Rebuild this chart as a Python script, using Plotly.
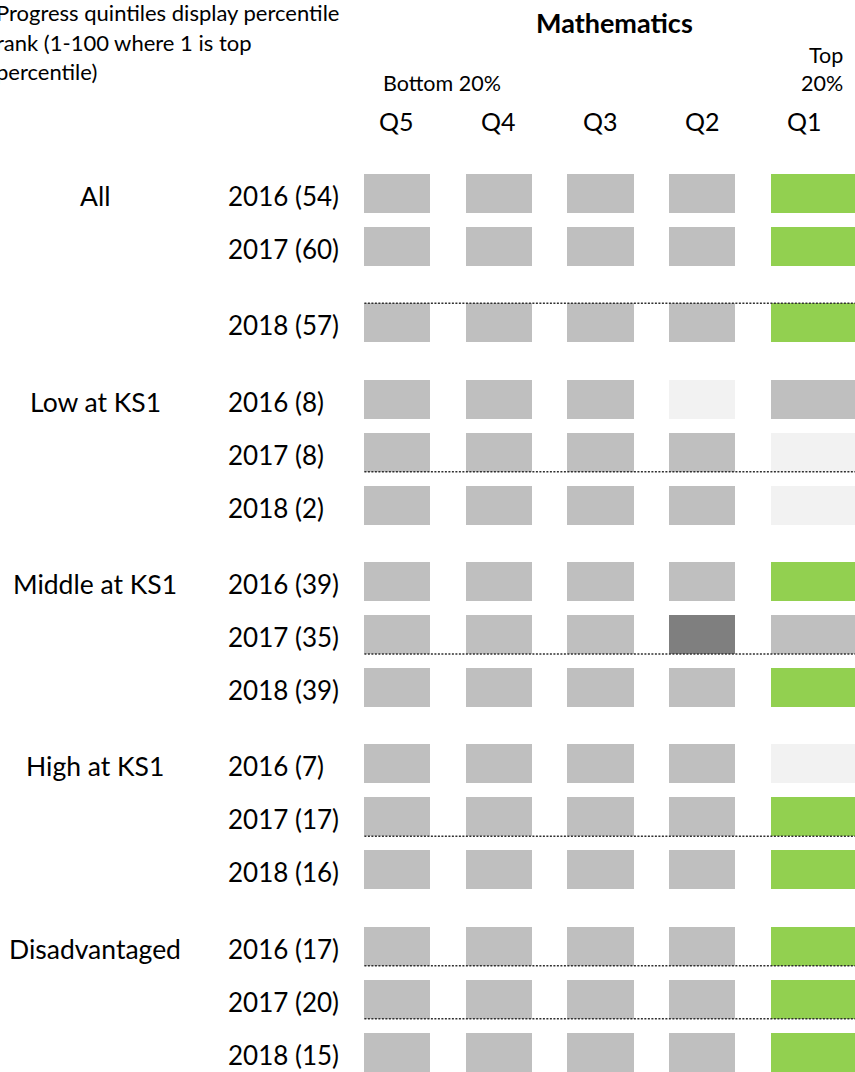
import plotly.graph_objects as go

# ---------------- data ----------------
groups = ["All", "Low at KS1", "Middle at KS1", "High at KS1", "Disadvantaged"]
years = ["2016", "2017", "2018"]
cohort_sizes = [
    [54, 60, 57],   # All
    [8, 8, 2],      # Low at KS1
    [39, 35, 39],   # Middle at KS1
    [7, 17, 16],    # High at KS1
    [17, 20, 15],   # Disadvantaged
]
quintiles = ["Q5", "Q4", "Q3", "Q2", "Q1"]
# status of each quintile cell: g = grey, l = light grey, d = dark grey, G = green (school's quintile)
cell_status = [
    ["g", "g", "g", "g", "G"],
    ["g", "g", "g", "g", "G"],
    ["g", "g", "g", "g", "G"],
    ["g", "g", "g", "l", "g"],
    ["g", "g", "g", "g", "l"],
    ["g", "g", "g", "g", "l"],
    ["g", "g", "g", "g", "G"],
    ["g", "g", "g", "d", "g"],
    ["g", "g", "g", "g", "G"],
    ["g", "g", "g", "g", "l"],
    ["g", "g", "g", "g", "G"],
    ["g", "g", "g", "g", "G"],
    ["g", "g", "g", "g", "G"],
    ["g", "g", "g", "g", "G"],
    ["g", "g", "g", "g", "G"],
]
title = "Mathematics"
note_lines = ["Progress quintiles display percentile", "rank (1-100 where 1 is top", "percentile)"]

# ---------------- styling / layout ----------------
colors = {"g": "#BFBFBF", "l": "#F2F2F2", "d": "#7F7F7F", "G": "#92D050"}
FONT = "Lato, Calibri, sans-serif"
W, H = 855, 1072
X_RANGE = [-3.90, 4.50]
Y_RANGE = [16.575, -3.651]
BOX_W = 0.65
BOX_H = 0.736
GAP = 0.44
# rows preceded by an extra gap (group starts, plus the 2018 "All" row)
gap_before = {2, 3, 6, 9, 12}
# dotted rules: (row index, edge)
rules = [(2, "top"), (4, "bottom"), (7, "bottom"), (10, "bottom"), (12, "bottom"), (13, "bottom")]

row_labels_year = []
row_group = []
for gi, g in enumerate(groups):
    for yi, yr in enumerate(years):
        row_labels_year.append(f"{yr} ({cohort_sizes[gi][yi]})")
        row_group.append(g if yi == 0 else "")

ypos = []
pos = 0.0
for i in range(len(row_labels_year)):
    if i > 0:
        pos += 1.0 + (GAP if i in gap_before else 0.0)
    ypos.append(pos)

fig = go.Figure()

for ci, q in enumerate(quintiles):
    base = ci - BOX_W / 2
    length = BOX_W if ci < len(quintiles) - 1 else (X_RANGE[1] + 0.3 - base)
    fig.add_trace(go.Bar(
        orientation="h",
        y=ypos,
        x=[length] * len(ypos),
        base=[base] * len(ypos),
        width=BOX_H,
        marker=dict(color=[colors[row[ci]] for row in cell_status], line=dict(width=0)),
        name=q,
        hoverinfo="skip",
        showlegend=False,
    ))

for ri, edge in rules:
    yv = ypos[ri] - BOX_H / 2 if edge == "top" else ypos[ri] + BOX_H / 2
    fig.add_trace(go.Scatter(
        x=[-BOX_W / 2 + 0.005, X_RANGE[1] + 0.1],
        y=[yv, yv],
        mode="lines",
        line=dict(color="#303030", width=1.5, dash="2px,1.5px"),
        hoverinfo="skip",
        showlegend=False,
    ))

ann = []
def px_x(p):
    return p / W
def px_y(p):
    return 1 - p / H

# row labels
for i, y in enumerate(ypos):
    ann.append(dict(x=px_x(226), y=y + 0.05, xref="paper", yref="y", text=row_labels_year[i],
                    xanchor="left", yanchor="middle", showarrow=False,
                    font=dict(family=FONT, size=26, color="#000000")))
    if row_group[i]:
        ann.append(dict(x=px_x(95), y=y + 0.05, xref="paper", yref="y", text=row_group[i],
                        xanchor="center", yanchor="middle", showarrow=False,
                        font=dict(family=FONT, size=26.5, color="#000000")))

# quintile headers
for ci, q in enumerate(quintiles):
    ann.append(dict(x=ci, y=px_y(121), xref="x", yref="paper", text=q,
                    xanchor="center", yanchor="middle", showarrow=False,
                    font=dict(family=FONT, size=25, color="#000000")))

ann.append(dict(x=px_x(614), y=px_y(22), xref="paper", yref="paper", text="<b>" + title + "</b>",
                xanchor="center", yanchor="middle", showarrow=False,
                font=dict(family=FONT, size=27, color="#000000")))
ann.append(dict(x=px_x(381), y=px_y(83), xref="paper", yref="paper", text="Bottom 20%",
                xanchor="left", yanchor="middle", showarrow=False,
                font=dict(family=FONT, size=21.5, color="#000000")))
ann.append(dict(x=px_x(845), y=px_y(55), xref="paper", yref="paper", text="Top",
                xanchor="right", yanchor="middle", showarrow=False,
                font=dict(family=FONT, size=21.5, color="#000000")))
ann.append(dict(x=px_x(845), y=px_y(83), xref="paper", yref="paper", text="20%",
                xanchor="right", yanchor="middle", showarrow=False,
                font=dict(family=FONT, size=21.5, color="#000000")))
for li, line in enumerate(note_lines):
    ann.append(dict(x=px_x(-6), y=px_y(13 + 29.5 * li), xref="paper", yref="paper", text=line,
                    xanchor="left", yanchor="middle", showarrow=False,
                    font=dict(family=FONT, size=22, color="#000000")))

fig.update_layout(
    width=W, height=H,
    margin=dict(l=0, r=0, t=0, b=0),
    paper_bgcolor="white", plot_bgcolor="white",
    barmode="overlay",
    bargap=0,
    showlegend=False,
    xaxis=dict(range=X_RANGE, visible=False, fixedrange=True),
    yaxis=dict(range=Y_RANGE, visible=False, fixedrange=True),
    annotations=ann,
)

fig.write_html(
    "out.html",
    config={"displayModeBar": False},
    post_script="document.body.style.margin='0';document.body.style.padding='0';document.body.style.overflow='hidden';",
)
